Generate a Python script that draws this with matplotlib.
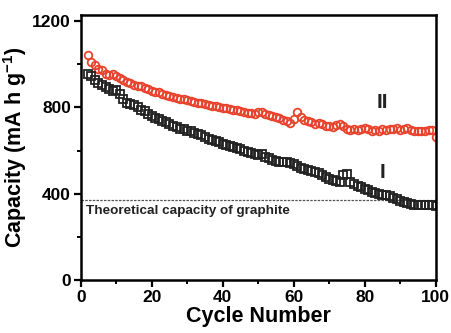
import numpy as np
import matplotlib

matplotlib.use("Agg")
import matplotlib.pyplot as plt

plt.rcParams["font.family"] = ["Liberation Sans", "DejaVu Sans"]
plt.rcParams["font.weight"] = "bold"
plt.rcParams["mathtext.fontset"] = "custom"
plt.rcParams["mathtext.rm"] = "Liberation Sans:bold"
plt.rcParams["mathtext.default"] = "regular"

cycles = np.arange(2, 101)

# sample II (red circles)
cap_ii = [
    1042, 1012, 995, 980, 975, 955, 950, 955, 945, 935,
    925, 918, 915, 905, 900, 898, 890, 885, 878, 872,
    870, 862, 858, 852, 850, 845, 840, 838, 835, 830,
    826, 822, 820, 815, 812, 808, 805, 800, 798, 795,
    792, 790, 786, 785, 780, 776, 772, 768, 778, 780,
    770, 765, 758, 755, 752, 742, 738, 728, 745, 778,
    755, 742, 735, 730, 722, 728, 722, 715, 712, 708,
    718, 725, 712, 700, 695, 698, 695, 698, 705, 698,
    690, 695, 692, 700, 695, 702, 700, 705, 695, 700,
    705, 695, 690, 692, 690, 690, 695, 695, 665,
]

# sample I (black squares)
cap_i = [
    955, 945, 928, 915, 905, 895, 885, 878, 880, 862,
    840, 822, 815, 810, 800, 790, 782, 770, 762, 752,
    745, 738, 730, 722, 715, 708, 702, 698, 692, 690,
    682, 678, 670, 662, 655, 650, 645, 638, 632, 625,
    620, 618, 610, 605, 598, 592, 588, 582, 578, 582,
    570, 565, 558, 550, 548, 548, 545, 542, 538, 528,
    520, 515, 510, 505, 502, 495, 485, 478, 470, 465,
    458, 455, 485, 490, 455, 445, 438, 430, 422, 418,
    410, 405, 398, 395, 395, 390, 382, 375, 368, 360,
    355, 352, 350, 348, 348, 348, 350, 348, 342,
]

graphite_cap = 372

fig = plt.figure(figsize=(4.51, 3.33), dpi=100)
ax = fig.add_axes([0.179, 0.159, 0.787, 0.796])

ax.axhline(graphite_cap, color="#555555", lw=0.9, ls=(0, (2, 1)))
ax.plot(cycles, cap_ii, "o", ms=5.5, mfc="none", mec="#e8412c", mew=1.3)
ax.plot(cycles, cap_i, "s", ms=5.2, mfc="none", mec="#222222", mew=1.3)

ax.text(1.5, 320, "Theoretical capacity of graphite", fontsize=9.7,
        fontweight="bold", color="#222222", va="center")
ax.text(85, 822, "II", fontsize=15, fontweight="bold", ha="center", va="center",
        color="#222222")
ax.text(85, 500, "I", fontsize=15, fontweight="bold", ha="center", va="center",
        color="#222222")

ax.set_xlim(0, 100)
ax.set_ylim(0, 1228)
ax.set_xticks([0, 20, 40, 60, 80, 100])
ax.set_xticks(np.arange(10, 100, 20), minor=True)
ax.set_yticks([0, 400, 800, 1200])
ax.set_yticks([200, 600, 1000], minor=True)

for s in ax.spines.values():
    s.set_linewidth(1.8)
ax.tick_params(which="major", direction="out", length=5, width=1.6,
               labelsize=12.5, pad=2)
ax.tick_params(which="minor", direction="out", length=3, width=1.4)
for lab in ax.get_xticklabels() + ax.get_yticklabels():
    lab.set_fontweight("bold")

ax.set_xlabel("Cycle Number", fontsize=15.5, fontweight="bold", labelpad=1)
ax.set_ylabel("Capacity (mA h g$^{-1}$)", fontsize=15.5, fontweight="bold",
              labelpad=2)

fig.savefig("out.png", dpi=100)
